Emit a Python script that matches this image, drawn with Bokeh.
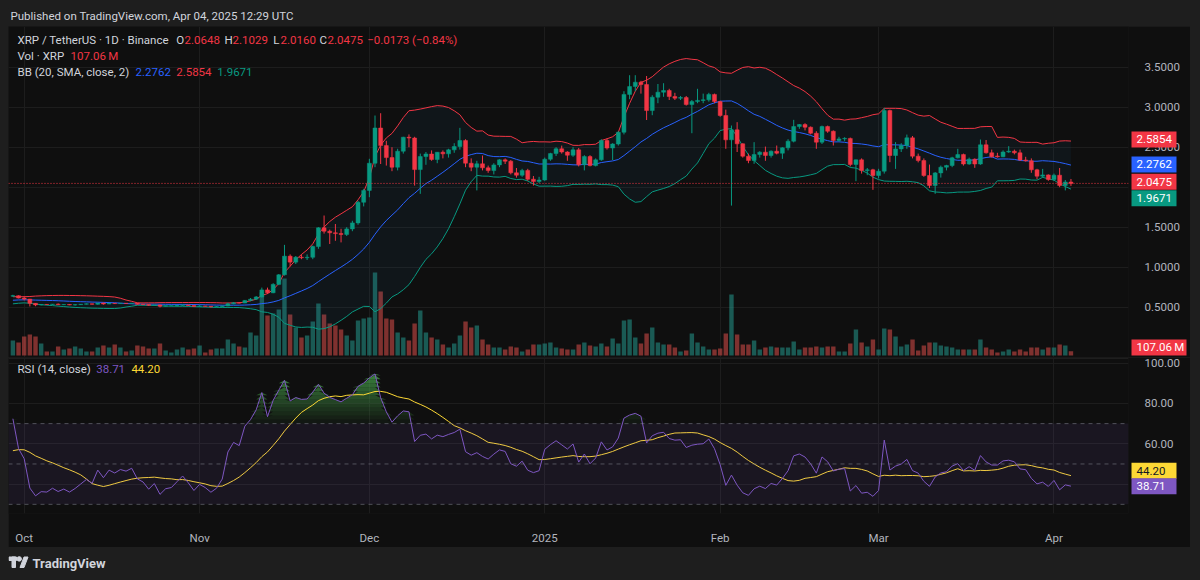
import numpy as np
import pandas as pd
from bokeh.plotting import figure
from bokeh.models import (Range1d, FixedTicker, PrintfTickFormatter, Span, Label,
                          BoxAnnotation, ColumnDataSource)
from bokeh.layouts import column, row
from bokeh.embed import file_html
from bokeh.resources import INLINE
from bokeh.core.properties import value

# ------------------------------------------------------------------ data
first_day, last_day = "2024-09-29", "2025-04-04"

opens = [0.638, 0.644,
    0.614,0.601,0.548,0.528,0.534,0.533,0.538,0.531,0.534,0.528,0.532,0.537,0.542,0.536,0.551,0.540,0.549,0.545,0.549,0.547,0.550,0.537,0.533,0.523,0.528,0.512,0.517,0.518,0.523,0.528,0.520,
    0.510,0.515,0.511,0.505,0.508,0.515,0.542,0.555,0.552,0.585,0.600,0.628,0.716,0.680,0.785,0.905,1.138,1.063,1.125,1.118,1.124,1.258,1.492,1.450,1.430,1.420,1.410,1.479,1.554,1.812,
    1.960,2.300,2.740,2.520,2.370,2.250,2.450,2.625,2.615,2.220,2.383,2.415,2.346,2.437,2.417,2.467,2.509,2.583,2.300,2.250,2.292,2.242,2.208,2.279,2.342,2.325,2.180,2.150,2.210,2.100,2.070,
    2.090,2.350,2.420,2.480,2.440,2.400,2.467,2.280,2.383,2.270,2.342,2.583,2.490,2.540,2.687,3.160,3.258,3.313,3.283,2.958,3.125,3.188,3.209,3.133,3.113,3.120,3.033,3.070,3.085,3.092,3.160,
    3.070,2.896,2.592,2.717,2.542,2.388,2.333,2.408,2.438,2.396,2.450,2.425,2.492,2.575,2.758,2.783,2.750,2.675,2.563,2.758,2.700,2.583,2.604,2.610,2.284,2.342,2.208,2.217,
    2.146,2.200,2.958,2.396,2.479,2.521,2.617,2.388,2.333,2.146,2.021,2.179,2.250,2.271,2.367,2.408,2.290,2.350,2.290,2.530,2.430,2.390,2.380,2.440,2.450,2.430,2.340,2.330,2.217,2.138,2.154,
    2.096,2.150,2.021,2.0648]
highs = [0.655, 0.648,
    0.637,0.604,0.552,0.538,0.537,0.540,0.547,0.537,0.538,0.540,0.540,0.546,0.544,0.556,0.558,0.552,0.551,0.552,0.551,0.553,0.554,0.541,0.534,0.530,0.532,0.519,0.522,0.526,0.533,0.530,0.523,
    0.525,0.517,0.513,0.514,0.522,0.556,0.565,0.563,0.590,0.615,0.640,0.745,0.745,0.800,0.915,1.279,1.160,1.140,1.160,1.160,1.270,1.500,1.646,1.470,1.540,1.480,1.500,1.580,1.830,1.980,
    2.355,2.896,2.925,2.580,2.500,2.480,2.630,2.660,2.630,2.420,2.440,2.460,2.440,2.460,2.480,2.550,2.742,2.600,2.360,2.330,2.396,2.270,2.300,2.350,2.360,2.340,2.240,2.230,2.230,2.140,2.130,
    2.370,2.430,2.500,2.520,2.450,2.500,2.490,2.400,2.400,2.360,2.600,2.610,2.550,2.700,3.200,3.400,3.400,3.330,3.390,3.150,3.290,3.300,3.230,3.180,3.140,3.140,3.090,3.230,3.170,3.180,3.170,
    3.080,2.970,2.771,2.813,2.550,2.420,2.563,2.450,2.508,2.460,2.521,2.500,2.600,2.842,2.790,2.800,2.760,2.700,2.770,2.770,2.710,2.630,2.625,2.620,2.345,2.360,2.240,2.230,
    2.230,2.990,2.970,2.563,2.550,2.658,2.640,2.420,2.360,2.283,2.190,2.270,2.280,2.380,2.480,2.420,2.370,2.360,2.596,2.590,2.470,2.430,2.460,2.513,2.470,2.470,2.380,2.360,2.230,2.229,2.160,
    2.170,2.240,2.090,2.1029]
lows = [0.630, 0.610,
    0.585,0.509,0.512,0.522,0.528,0.530,0.528,0.526,0.525,0.519,0.530,0.535,0.532,0.531,0.532,0.538,0.540,0.541,0.544,0.543,0.531,0.530,0.515,0.518,0.497,0.509,0.513,0.511,0.519,0.515,0.505,
    0.503,0.508,0.496,0.498,0.504,0.512,0.536,0.547,0.550,0.575,0.590,0.620,0.665,0.675,0.775,0.895,1.010,1.040,1.100,1.090,1.100,1.230,1.420,1.290,1.330,1.310,1.390,1.450,1.530,1.760,
    1.875,2.250,2.290,2.270,2.200,2.210,2.420,2.500,2.020,1.917,2.280,2.330,2.300,2.360,2.370,2.430,2.470,2.250,2.200,1.960,2.210,2.180,2.160,2.250,2.290,2.160,2.120,2.130,2.080,2.020,2.050,
    2.080,2.330,2.390,2.420,2.330,2.380,2.260,2.210,2.260,2.260,2.330,2.470,2.340,2.520,2.660,3.100,3.200,3.170,2.840,2.900,3.050,3.130,3.090,3.090,3.090,3.020,2.675,3.050,3.050,3.070,3.050,
    2.880,2.480,1.770,2.440,2.370,2.300,2.292,2.370,2.330,2.370,2.410,2.354,2.460,2.560,2.730,2.710,2.660,2.480,2.540,2.680,2.521,2.570,2.575,2.260,2.075,2.170,2.150,1.967,
    2.110,2.170,2.313,2.229,2.440,2.480,2.360,2.310,2.130,1.990,1.917,2.120,2.210,2.250,2.360,2.270,2.280,2.242,2.280,2.420,2.370,2.370,2.375,2.430,2.410,2.330,2.320,2.180,2.100,2.120,2.080,
    2.080,2.000,1.960,2.0160]
closes = [0.644, 0.614,
    0.601,0.548,0.528,0.534,0.533,0.538,0.531,0.534,0.528,0.532,0.537,0.542,0.536,0.551,0.540,0.549,0.545,0.549,0.547,0.550,0.537,0.533,0.523,0.528,0.512,0.517,0.518,0.523,0.528,0.520,0.510,
    0.515,0.511,0.505,0.508,0.515,0.542,0.555,0.552,0.585,0.600,0.628,0.716,0.680,0.785,0.905,1.138,1.063,1.125,1.118,1.124,1.258,1.492,1.450,1.430,1.420,1.410,1.479,1.554,1.812,1.960,
    2.300,2.740,2.520,2.370,2.250,2.450,2.625,2.615,2.220,2.383,2.415,2.346,2.437,2.417,2.467,2.509,2.583,2.300,2.250,2.292,2.242,2.208,2.279,2.342,2.325,2.180,2.150,2.210,2.100,2.070,2.090,
    2.350,2.420,2.480,2.440,2.400,2.467,2.280,2.383,2.270,2.342,2.583,2.490,2.540,2.687,3.160,3.258,3.313,3.283,2.958,3.125,3.188,3.209,3.133,3.113,3.120,3.033,3.070,3.085,3.092,3.160,3.070,
    2.896,2.592,2.717,2.542,2.388,2.333,2.408,2.438,2.396,2.450,2.425,2.492,2.575,2.758,2.783,2.750,2.675,2.563,2.758,2.700,2.583,2.604,2.610,2.284,2.342,2.208,2.217,2.146,
    2.200,2.958,2.396,2.479,2.521,2.617,2.388,2.333,2.146,2.021,2.179,2.250,2.271,2.367,2.408,2.290,2.350,2.290,2.530,2.430,2.380,2.380,2.440,2.450,2.430,2.340,2.330,2.217,2.138,2.154,2.096,
    2.150,2.021,2.0648,2.0475]
volumes_m = [375, 325,
    475,525,475,300,100,100,225,150,175,225,175,100,100,200,250,200,275,200,100,125,250,225,175,175,300,125,75,150,200,150,175,
    250,75,150,175,175,400,300,225,200,575,500,1575,1000,1050,1150,1925,1025,700,450,500,850,1300,1025,800,750,650,500,375,875,925,
    950,2075,1600,925,900,575,450,375,800,1125,575,450,400,275,200,300,500,850,700,750,400,275,200,200,150,225,200,100,150,275,275,
    300,325,200,175,150,150,275,325,250,225,300,225,425,300,875,900,450,300,550,700,325,275,275,200,100,125,550,325,225,150,150,
    175,550,1525,525,275,275,375,150,200,225,200,200,200,350,150,200,200,225,200,225,225,100,100,300,650,325,225,400,
    150,675,650,475,225,275,400,125,250,325,325,250,225,200,150,150,150,150,400,200,150,75,100,150,100,150,100,200,200,150,200,
    200,275,250,107.06]
# closes of 2024-08-26 .. 2024-09-28 (not drawn; only warm up BB(20) and RSI(14))
prior_closes = [0.585,0.561,0.566,0.567,0.568,0.566,0.556,0.563,0.555,0.564,0.559,0.542,0.533,0.541,0.545,0.540,0.559,
                0.571,0.575,0.578,0.569,0.577,0.585,0.590,0.597,0.586,0.588,0.584,0.587,0.590,0.583,0.590,0.600,0.638]

month_ticks = [0, 31, 61, 92, 123, 151, 182]          # days after 2024-10-01
month_labels = ["Oct", "Nov", "Dec", "2025", "Feb", "Mar", "Apr"]
price_ticks = [0.5, 1, 1.5, 2, 2.5, 3, 3.5]
rsi_ticks = [40, 60, 80, 100]

hdr_ohlc = ["2.0648", "2.1029", "2.0160", "2.0475"]
hdr_change = "\u22120.0173 (\u22120.84%)"
hdr_vol = "107.06\u2009M"
bb_vals = ["2.2762", "2.5854", "1.9671"]
rsi_vals = ["38.71", "44.20"]

# ------------------------------------------------------------------ derived
dates = pd.date_range(first_day, last_day, freq="D")
day = np.asarray((dates - pd.Timestamp("2024-10-01")).days, dtype=float)
o, h, l, c = map(np.array, (opens, highs, lows, closes))
v = np.array(volumes_m, dtype=float)
up = c >= o
UP, DN = "#089981", "#f23645"
ccol = np.where(up, UP, DN)
vcol = np.where(up, "#26a69a", "#ef5350")

allc = pd.Series(prior_closes + closes, dtype=float)
n0 = len(prior_closes)
mid_all = allc.rolling(20).mean().values
sd_all = allc.rolling(20).std(ddof=0).values
mid = mid_all[n0:]
upper = (mid_all + 2 * sd_all)[n0:]
lower = (mid_all - 2 * sd_all)[n0:]

delta = np.diff(allc.values)
gain = np.clip(delta, 0, None)
loss = np.clip(-delta, 0, None)

def rma(x, n=14):
    out = np.full(len(x), np.nan)
    out[n - 1] = x[:n].mean()
    for i in range(n, len(x)):
        out[i] = (out[i - 1] * (n - 1) + x[i]) / n
    return out

ag, al = rma(gain), rma(loss)
rsi_all = np.concatenate([[np.nan], 100 - 100 / (1 + ag / al)])
rsi_ma_all = pd.Series(rsi_all).rolling(14).mean().values
rsi = rsi_all[n0:]
rsi_ma = rsi_ma_all[n0:]

# ------------------------------------------------------------------ style
BG, PAGE = "#0f0f0f", "#1e1e1e"
TXT, AX = "#d1d4dc", "#b2b5be"
FONT = "Roboto"
FS = "11.5px"
GRID = "#1d1d1d"
X0, X1 = -2.775, 195.17

def style_axis(ax):
    ax.axis_line_color = None
    ax.major_tick_line_color = None
    ax.minor_tick_line_color = None
    ax.major_label_text_color = AX
    ax.major_label_text_font = FONT
    ax.major_label_text_font_size = FS

def lab(fig, x, y, text, color):
    fig.add_layout(Label(x=x, y=y, x_units="screen", y_units="data", text=text,
                         text_font=FONT, text_font_size=FS, text_baseline="middle",
                         text_align="left", text_color=color))

def tag_overlay(y_range, height, top, bottom, tags):
    """transparent strip laid over the right price scale, holding value tags"""
    f = figure(width=62, height=height, x_range=Range1d(0, 62), y_range=y_range,
               x_axis_location=None, y_axis_location=None, toolbar_location=None,
               output_backend="svg", background_fill_alpha=0, border_fill_alpha=0,
               outline_line_color=None, min_border_left=0, min_border_right=0,
               min_border_top=top, min_border_bottom=bottom,
               styles={"margin-left": "-62px"})
    f.grid.visible = False
    src = ColumnDataSource(dict(y=[t[0] for t in tags], text=[t[1] for t in tags],
                                bg=[t[2] for t in tags], fg=[t[3] for t in tags],
                                w=[t[4] for t in tags], xc=[3 + t[4] / 2 for t in tags]))
    f.rect(x="xc", y="y", width="w", height=16, width_units="screen", height_units="screen",
           fill_color="bg", line_color=None, source=src)
    f.text(x=8, y="y", text="text", text_color="fg", text_baseline="middle", text_align="left",
           text_font=value(FONT), text_font_size=FS, source=src)
    return f

# ------------------------------------------------------------------ title bar
tf = figure(width=1184, height=18, x_range=Range1d(0, 1184), y_range=Range1d(0, 18),
            x_axis_location=None, y_axis_location=None, toolbar_location=None,
            output_backend="svg", background_fill_color=PAGE, border_fill_color=PAGE,
            outline_line_color=None, min_border=0)
tf.grid.visible = False
tf.text(x=[2], y=[11], text=["Published on TradingView.com, Apr 04, 2025 12:29 UTC"],
        text_font=value(FONT), text_font_size="11.5px", text_color=TXT, text_baseline="middle")

# ------------------------------------------------------------------ price pane
p = figure(width=1182, height=331, x_range=Range1d(X0, X1), y_range=Range1d(-0.129, 4.009),
           x_axis_location=None, y_axis_location="right", toolbar_location=None,
           output_backend="svg", background_fill_color=BG, border_fill_color=BG,
           outline_line_color=None, min_border_left=0, min_border_right=62,
           min_border_top=0, min_border_bottom=0)
p.extra_y_ranges = {"vol": Range1d(-50, 8225)}
style_axis(p.yaxis[0])
p.yaxis.ticker = FixedTicker(ticks=price_ticks)
p.yaxis.formatter = PrintfTickFormatter(format="%.4f")
p.yaxis.major_label_overrides = {2: ""}     # hidden behind the last-price tags
p.yaxis.major_label_standoff = 10
p.ygrid.ticker = FixedTicker(ticks=price_ticks)
p.xgrid.ticker = FixedTicker(ticks=month_ticks)
p.grid.grid_line_color = GRID

p.vbar(x=day, top=v, bottom=0, width=0.78, fill_color=vcol, fill_alpha=0.5,
       line_color=None, y_range_name="vol")
p.varea(x=day, y1=lower, y2=upper, fill_color="#2196f3", fill_alpha=0.05)
p.line(day, mid, line_color="#2962ff", line_width=1)
p.line(day, upper, line_color="#f23645", line_width=1)
p.line(day, lower, line_color="#089981", line_width=1)
p.segment(x0=day, y0=l, x1=day, y1=h, line_color=ccol, line_width=1)
p.vbar(x=day, top=np.maximum(o, c), bottom=np.minimum(o, c), width=0.7,
       fill_color=ccol, line_color=ccol, line_width=0.5)
p.add_layout(Span(location=c[-1], dimension="width", line_color="#f23645",
                  line_dash="1 2", line_width=1))

r1, r2, r3 = 3.834, 3.634, 3.434
lab(p, 9, r1, "XRP / TetherUS \u00b7 1D \u00b7 Binance", TXT)
for xs, letter, xv, val in [(167.7, "O", 176, hdr_ohlc[0]), (216, "H", 224, hdr_ohlc[1]),
                            (264.7, "L", 272, hdr_ohlc[2]), (311, "C", 319, hdr_ohlc[3])]:
    lab(p, xs, r1, letter, TXT)
    lab(p, xv, r1, val, DN)
lab(p, 358.7, r1, hdr_change, DN)
lab(p, 9, r2, "Vol \u00b7 XRP", TXT)
lab(p, 62, r2, hdr_vol, DN)
lab(p, 9, r3, "BB (20, SMA, close, 2)", TXT)
lab(p, 127, r3, bb_vals[0], "#2962ff")
lab(p, 167.7, r3, bb_vals[1], "#f23645")
lab(p, 208.7, r3, bb_vals[2], "#089981")

pt = tag_overlay(p.y_range, 331, 0, 0, [
    (2.597, bb_vals[1], "#f23645", "white", 45),
    (2.284, bb_vals[0], "#2962ff", "white", 45),
    (2.067, hdr_ohlc[3], "#f23645", "white", 45),
    (1.863, bb_vals[2], "#089981", "white", 45),
    (-0.003, hdr_vol, "#f23645", "white", 55),
])

# ------------------------------------------------------------------ RSI pane
r = figure(width=1182, height=190, x_range=p.x_range, y_range=Range1d(25.46, 102.27),
           y_axis_location="right", x_axis_location="below", toolbar_location=None,
           output_backend="svg", background_fill_color=BG, border_fill_color=BG,
           outline_line_color=None, min_border_left=0, min_border_right=62,
           min_border_top=1, min_border_bottom=30)
style_axis(r.yaxis[0])
style_axis(r.xaxis[0])
r.yaxis.ticker = FixedTicker(ticks=rsi_ticks)
r.yaxis.formatter = PrintfTickFormatter(format="%.2f")
r.yaxis.major_label_overrides = {40: ""}
r.yaxis.major_label_standoff = 10
r.xaxis.ticker = FixedTicker(ticks=month_ticks)
r.xaxis.major_label_overrides = dict(zip(month_ticks, month_labels))
r.xaxis.major_label_standoff = 11
r.ygrid.ticker = FixedTicker(ticks=rsi_ticks)
r.xgrid.ticker = FixedTicker(ticks=month_ticks)
r.grid.grid_line_color = GRID

r.add_layout(BoxAnnotation(bottom=30, top=70, fill_color="#7e57c2", fill_alpha=0.1, line_color=None))
for lvl in (70, 50, 30):
    r.add_layout(Span(location=lvl, dimension="width", line_color="#787b86",
                      line_alpha=0.6, line_dash="4 4", line_width=1))
for k in range(15):
    lo_, hi_ = 70 + 2 * k, 72 + 2 * k
    r.varea(x=day, y1=np.full(len(day), lo_), y2=np.clip(rsi, lo_, hi_),
            fill_color="#4caf50", fill_alpha=0.06 + 0.055 * k)
r.line(day, rsi_ma, line_color="#fdd835", line_width=1)
r.line(day, rsi, line_color="#7e57c2", line_width=1)
r.add_layout(Span(location=102.27, dimension="width", line_color="#2a2a2a", line_width=1))

lab(r, 9, 96.96, "RSI (14, close)", TXT)
lab(r, 87.7, 96.96, rsi_vals[0], "#7e57c2")
lab(r, 122.9, 96.96, rsi_vals[1], "#fdd835")

rt = tag_overlay(r.y_range, 190, 1, 30, [
    (46.7, rsi_vals[1], "#fdd835", "#131722", 45),
    (39.0, rsi_vals[0], "#7e57c2", "white", 45),
])

# ------------------------------------------------------------------ footer
ft = figure(width=1184, height=25, x_range=Range1d(0, 1184), y_range=Range1d(0, 25),
            x_axis_location=None, y_axis_location=None, toolbar_location=None,
            output_backend="svg", background_fill_color=PAGE, border_fill_color=PAGE,
            outline_line_color=None, min_border=0)
ft.grid.visible = False
ft.quad(left=[0.5], right=[8], bottom=[12], top=[15.5], color=TXT)
ft.quad(left=[3.5], right=[7], bottom=[5], top=[15.5], color=TXT)
ft.scatter(x=[10.7], y=[13.6], size=4.5, color=TXT)
ft.patch(x=[11.5, 15.5, 19.5, 15.5], y=[5, 15.5, 15.5, 5], color=TXT)
ft.text(x=[24], y=[9.5], text=["TradingView"], text_font=value(FONT), text_font_size="13px",
        text_font_style="bold", text_color=TXT, text_baseline="middle")

layout = column(tf, row(p, pt, spacing=0), row(r, rt, spacing=0), ft, spacing=0)

TEMPLATE = """
{% block postamble %}
<style>
html, body { background-color: #1e1e1e; }
body { margin: 0 !important; padding: 8px !important; box-sizing: border-box; }
</style>
{% endblock %}
"""
html = file_html(layout, INLINE, template=TEMPLATE)
open("out.html", "w").write(html)
